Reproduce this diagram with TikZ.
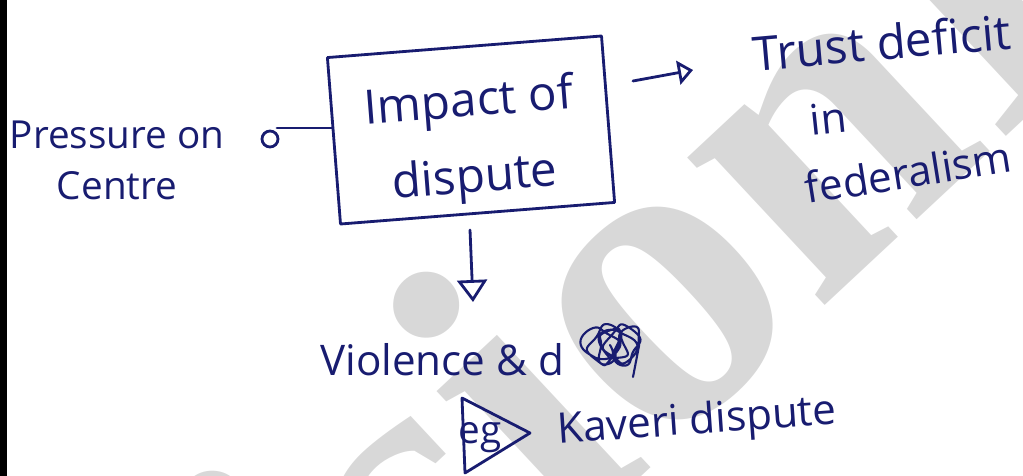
\documentclass[tikz,border=0pt]{standalone}
\usepackage{fontspec}
\setmainfont{Open Sans}
\newfontfamily\wmfont{Liberation Serif}
\usetikzlibrary{arrows.meta}
\definecolor{ink}{RGB}{24,28,112}
\definecolor{wmgrey}{RGB}{216,216,216}
\tikzset{
	hand/.style={text=ink, font=\fontsize{24}{30}\selectfont, inner sep=0pt},
	pen/.style={draw=ink, line width=1.6pt, line cap=round, line join=round},
	openhead/.style 2 args={-{Triangle[open,length=#1,width=#2]}}
}
\begin{document}
\begin{tikzpicture}[x=0.02cm,y=-0.02cm]
		\useasboundingbox (0,0) rectangle (1023,476);

		% Marca d'aigua
		\node[rotate=43, text=wmgrey, font=\wmfont\bfseries\fontsize{250}{250}\selectfont] (wm) at (730,190) {VisionIAS};
		\fill[black] (0,0) rectangle (7,476);

		% Caixa central
		\node[hand, pen, rotate=4.5, align=center, minimum width=5.5cm, minimum height=3.34cm,
			font=\fontsize{27}{43}\selectfont] (impact) at (471,130) {\rule{0pt}{1.2cm}Impact of\\dispute};

		% Textos
		\node[hand, align=center, font=\fontsize{22}{29}\selectfont] (pressure) at (117,160) {Pressure on\\Centre};
		\node[hand, rotate=5, font=\fontsize{27}{30}\selectfont] (trust) at (882,42) {Trust deficit};
		\node[hand, rotate=6] (trustin) at (828,118) {in};
		\node[hand, rotate=9] (trustfed) at (908,172) {federalism};
		\node[hand, anchor=base west] (violence) at (320,375) {Violence \& d};
		\node[hand, rotate=4] (kaveri) at (697,423) {Kaveri dispute};
		\node[hand, font=\fontsize{22}{26}\selectfont] (eg) at (480,438) {eg};

		% Fletxes
		\coordinate (ptail) at (277,128);
		\coordinate (pknob) at (270,139);
		\draw[pen] (ptail) -- (ptail -| impact.west);
		\draw[pen] (pknob) circle (0.16cm);

		\coordinate (r1) at (633,81);
		\coordinate (r2) at (693,70);
		\draw[pen, openhead={0.3cm}{0.48cm}] (r1) -- (r2);

		\coordinate (d1) at (470,230);
		\coordinate (d2) at (473,302);
		\draw[pen, openhead={0.44cm}{0.6cm}] (d1) -- (d2);

		% Gargot i vinyeta
		\draw[pen, line width=1.2pt] plot[domain=0:37.7, samples=300, smooth]
			({596+0.9*\x+(14+5*sin(2.3*\x r))*cos(\x r)}, {345+(17+4*cos(1.7*\x r))*sin(\x r)})
			-- (633,377);
		\draw[pen] (462,398) -- (530,433) -- (465,473) -- cycle;
\end{tikzpicture}
\end{document}
